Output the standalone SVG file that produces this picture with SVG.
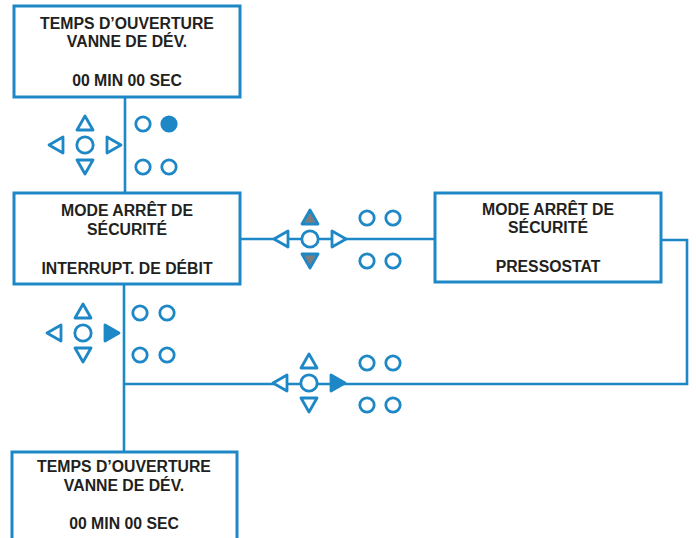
<svg xmlns="http://www.w3.org/2000/svg" width="696" height="538" viewBox="0 0 696 538">
<defs>
<style>
.box{fill:#fff;stroke:#1e88c7;stroke-width:3}
.ln{fill:none;stroke:#1e88c7;stroke-width:2.6}
.t{font-family:"Liberation Sans",Arial,sans-serif;font-weight:bold;font-size:15.8px;fill:#231f20;text-anchor:middle}
.k{fill:#fff;stroke:#1e88c7;stroke-width:2.8;stroke-linejoin:round}
.kf{fill:#1e88c7;stroke:#1e88c7;stroke-width:2.8;stroke-linejoin:round}
.kg{fill:#7d7d7d;stroke:#1e88c7;stroke-width:2.8;stroke-linejoin:round}
</style>
<circle id="c" r="8.2" class="k"/>
<polygon id="up" points="0,-29 8,-15 -8,-15"/>
<polygon id="dn" points="0,29 8,15 -8,15"/>
<polygon id="lf" points="-36,0 -22,-8 -22,8"/>
<polygon id="rt" points="36,0 22,-8 22,8"/>
<circle id="d" r="7.2"/>
</defs>
<rect width="696" height="538" fill="#fff"/>
<g id="connectors">
<line class="ln" x1="125" y1="97" x2="125" y2="193"/>
<line class="ln" x1="240" y1="239" x2="435" y2="239"/>
<polyline class="ln" points="661,240 687,240 687,384 124,384"/>
<line class="ln" x1="124" y1="284" x2="124" y2="452"/>
</g>
<g id="node1">
<rect class="box" x="14" y="6" width="226" height="91"/>
<text class="t" x="127" y="29">TEMPS D’OUVERTURE</text>
<text class="t" x="127" y="47">VANNE DE DÉV.</text>
<text class="t" x="127" y="86">00 MIN 00 SEC</text>
</g>
<g id="node2">
<rect class="box" x="14" y="193" width="226" height="91"/>
<text class="t" x="127" y="216">MODE ARRÊT DE</text>
<text class="t" x="127" y="235">SÉCURITÉ</text>
<text class="t" x="127" y="274">INTERRUPT. DE DÉBIT</text>
</g>
<g id="node3">
<rect class="box" x="435" y="193" width="226" height="89"/>
<text class="t" x="548" y="215">MODE ARRÊT DE</text>
<text class="t" x="548" y="233">SÉCURITÉ</text>
<text class="t" x="548" y="272">PRESSOSTAT</text>
</g>
<g id="node4">
<rect class="box" x="12" y="452" width="225" height="100"/>
<text class="t" x="124" y="472">TEMPS D’OUVERTURE</text>
<text class="t" x="124" y="491">VANNE DE DÉV.</text>
<text class="t" x="124" y="529">00 MIN 00 SEC</text>
</g>
<g id="keypad1" transform="translate(85,145)">
<use href="#c"/>
<use href="#up" class="k"/><use href="#dn" class="k"/><use href="#lf" class="k"/><use href="#rt" class="k"/>
<use href="#d" class="k" x="58" y="-21"/><use href="#d" class="kf" x="84" y="-21"/>
<use href="#d" class="k" x="58" y="22"/><use href="#d" class="k" x="84" y="22"/>
</g>
<g id="keypad2" transform="translate(83,333)">
<use href="#c"/>
<use href="#up" class="k"/><use href="#dn" class="k"/><use href="#lf" class="k"/><use href="#rt" class="kf"/>
<use href="#d" class="k" x="57" y="-20"/><use href="#d" class="k" x="84" y="-20"/>
<use href="#d" class="k" x="57" y="22"/><use href="#d" class="k" x="84" y="22"/>
</g>
<g id="keypad3" transform="translate(310,239)">
<use href="#c"/>
<use href="#up" class="kg"/><use href="#dn" class="kg"/><use href="#lf" class="k"/><use href="#rt" class="k"/>
<use href="#d" class="k" x="57" y="-21"/><use href="#d" class="k" x="83" y="-21"/>
<use href="#d" class="k" x="57" y="22"/><use href="#d" class="k" x="83" y="22"/>
</g>
<g id="keypad4" transform="translate(309,383)">
<use href="#c"/>
<use href="#up" class="k"/><use href="#dn" class="k"/><use href="#lf" class="k"/><use href="#rt" class="kf"/>
<use href="#d" class="k" x="58" y="-20"/><use href="#d" class="k" x="84" y="-20"/>
<use href="#d" class="k" x="58" y="22"/><use href="#d" class="k" x="84" y="22"/>
</g>
</svg>
